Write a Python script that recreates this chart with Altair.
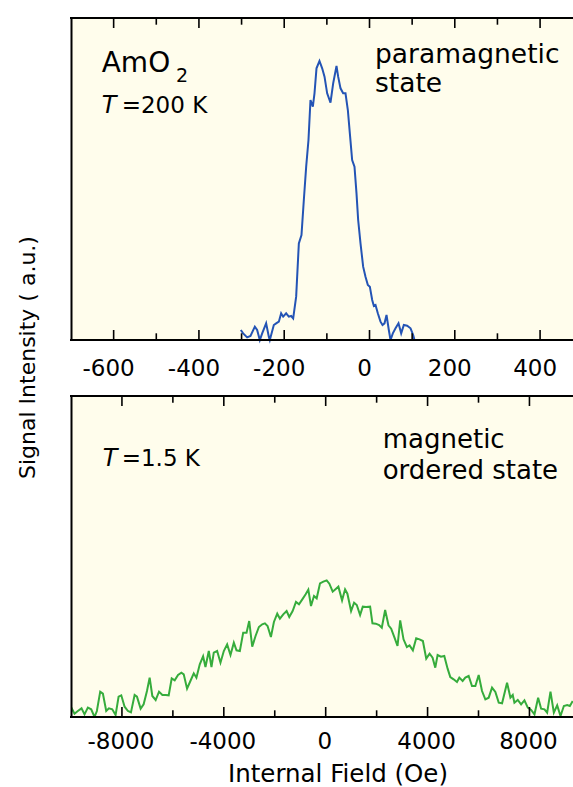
import altair as alt
import pandas as pd

# ---------------- data ----------------
blue_field = [-301.8, -296.3, -286.9, -279.1, -268.9, -263.5, -257.2, -251.7, -242.4, -236.1,
              -233.8, -224.4, -218.9, -212.6, -207.2, -202.5, -195.5, -189.2, -183.7, -179.0,
              -172.0, -165.7, -159.5, -154.0, -148.5, -143.1, -138.4, -132.9, -129.0, -124.3,
              -117.3, -111.0, -105.5, -99.3, -91.5, -85.2, -77.4, -73.5, -68.0, -61.8,
              -56.3, -50.8, -46.1, -40.7, -35.2, -30.5, -26.6, -21.1, -14.9, -9.4,
              -3.9, 0.8, 6.3, 10.2, 14.1, 19.5, 25.8, 30.5, 35.2, 39.9,
              45.3, 49.3, 54.7, 61.0, 68.0, 74.3, 80.5, 88.3, 96.2, 102.4,
              105.5]
blue_signal = [30, 20, 8, 12, 40, 30, 0, 20, 50, 10,
               0, 45, 50, 55, 80, 70, 80, 70, 72, 65,
               130, 290, 315, 420, 520, 600, 720, 700, 740, 815,
               837, 815, 790, 740, 712, 770, 822, 790, 755, 740,
               740, 690, 620, 540, 520, 440, 360, 290, 220, 190,
               165, 160, 120, 102, 105, 80, 55, 45, 50, 75,
               30, 0, 20, 35, 50, 20, 45, 43, 35, 15,
               0]

green_field = [-10000, -9862, -9731, -9587, -9469, -9338, -9207, -9076, -8984, -8853,
               -8748, -8617, -8512, -8380, -8249, -8131, -8026, -7895, -7764, -7646,
               -7502, -7410, -7266, -7148, -7017, -6912, -6807, -6676, -6544, -6413,
               -6282, -6164, -6046, -5928, -5797, -5666, -5574, -5443, -5312, -5180,
               -5076, -4944, -4813, -4721, -4590, -4485, -4394, -4262, -4131, -4000,
               -3869, -3738, -3607, -3502, -3371, -3239, -3108, -3003, -2885, -2754,
               -2623, -2492, -2387, -2282, -2151, -2033, -1902, -1797, -1666, -1534,
               -1430, -1298, -1167, -1049, -918, -787, -682, -577, -459, -354,
               -223, -92, 39, 144, 275, 407, 498, 643, 761, 852,
               997, 1115, 1220, 1351, 1456, 1587, 1744, 1836, 1967, 2098,
               2203, 2334, 2466, 2571, 2702, 2820, 2925, 3056, 3187, 3292,
               3423, 3554, 3685, 3816, 3948, 4079, 4197, 4302, 4394, 4525,
               4656, 4787, 4892, 5023, 5154, 5246, 5377, 5482, 5613, 5744,
               5876, 6007, 6138, 6269, 6400, 6531, 6662, 6794, 6925, 7121,
               7253, 7344, 7410, 7541, 7672, 7803, 7935, 8066, 8197, 8341,
               8459, 8590, 8695, 8826, 8958, 9089, 9220, 9351, 9482, 9587,
               9700]
green_signal = [30, 10, 18, 26, 8, 28, 23, 0, 18, 76,
                70, 18, 26, 23, 6, 61, 65, 31, 18, 14,
                66, 61, 25, 38, 78, 118, 63, 51, 76, 66,
                66, 65, 116, 110, 126, 133, 128, 85, 108, 131,
                118, 158, 182, 150, 198, 150, 193, 198, 163, 198,
                218, 186, 223, 200, 198, 253, 253, 288, 211, 243,
                270, 278, 281, 273, 240, 285, 310, 295, 308, 318,
                300, 318, 345, 338, 353, 368, 382, 333, 363, 356,
                401, 406, 410, 400, 376, 385, 391, 350, 383, 370,
                318, 343, 336, 306, 331, 330, 331, 281, 280, 276,
                268, 321, 275, 265, 238, 213, 290, 233, 210, 215,
                200, 236, 233, 228, 175, 190, 178, 148, 186, 181,
                183, 145, 120, 113, 105, 118, 108, 118, 123, 93,
                93, 126, 78, 53, 58, 88, 75, 43, 41, 103,
                58, 66, 43, 51, 38, 50, 28, 21, 8, 58,
                25, 23, 13, 76, 13, 35, 3, 33, 36, 33,
                48]

top_major = [-600, -400, -200, 0, 200, 400]
top_minor = [-500, -300, -100, 100, 300]
bot_major = [-8000, -4000, 0, 4000, 8000]
bot_minor = [-6000, -2000, 2000, 6000]
top_labels = ["-600", "-400", "-200", "0", "200", "400"]
bot_labels = ["-8000", "-4000", "0", "4000", "8000"]

# ---------------- layout / style ----------------
FONT = "DejaVu Sans"
W = 502          # plot width (x = 71 .. 573)
H = 699          # both panels (y = 18 .. 717)
TOP_H = 322      # top panel height
BOT_Y0 = 378     # bottom panel top
BG = "#fffdec"
BLUE = "#2454b5"
GREEN = "#36ac3c"
LW = 2

top_x = alt.Scale(domain=[-700, 477.2], nice=False, zero=False)
top_y = alt.Scale(domain=[0, 966], range=[TOP_H, 0], nice=False, zero=False)
bot_x = alt.Scale(domain=[-10000, 9710], nice=False, zero=False)
bot_y = alt.Scale(domain=[0, 963], range=[H, BOT_Y0], nice=False, zero=False)

blue_df = pd.DataFrame({"field": blue_field, "signal": blue_signal})
green_df = pd.DataFrame({"field": green_field, "signal": green_signal})
one = pd.DataFrame({"a": [0]})


def rect(y0, y1):
    return alt.Chart(one).mark_rect(color=BG).encode(
        x=alt.value(0), x2=alt.value(W), y=alt.value(y0), y2=alt.value(y1))


def hline(y):
    return alt.Chart(one).mark_rule(color="black", strokeWidth=LW).encode(
        x=alt.value(-1), x2=alt.value(W), y=alt.value(y))


def ticks(vals, scale, y0, y1):
    return alt.Chart(pd.DataFrame({"field": vals})).mark_rule(
        color="black", strokeWidth=1.6).encode(
        x=alt.X("field:Q", scale=scale, axis=None),
        y=alt.value(y0), y2=alt.value(y1))


def tick_labels(vals, texts, scale, y, dx=0):
    return alt.Chart(pd.DataFrame({"field": vals, "lab": texts})).mark_text(
        align="center", baseline="alphabetic", font=FONT, fontSize=23,
        color="black", dx=dx).encode(
        x=alt.X("field:Q", scale=scale, axis=None),
        y=alt.value(y), text="lab:N")


def label(text, x, y, size, style="normal", align="left"):
    return alt.Chart(pd.DataFrame({"t": [text]})).mark_text(
        align=align, baseline="alphabetic", font=FONT, fontSize=size,
        fontStyle=style, color="black").encode(
        text="t:N", x=alt.value(x), y=alt.value(y))


def yaxis(**kw):
    return alt.Axis(orient="left", labels=False, ticks=False, tickSize=0,
                    domainColor="black", domainWidth=LW, grid=False, zindex=2, **kw)


top_line = alt.Chart(blue_df).mark_line(color=BLUE, strokeWidth=2, clip=True).encode(
    x=alt.X("field:Q", scale=top_x, axis=None),
    y=alt.Y("signal:Q", scale=top_y,
            axis=yaxis(title="Signal Intensity ( a.u.)", titleAngle=270,
                       titleX=-44, titleY=339, titleAlign="center",
                       titleBaseline="middle", titleFont=FONT, titleFontSize=22,
                       titleFontWeight="normal", titleColor="black")),
)

top_panel = alt.layer(
    top_line,
    ticks(top_major, top_x, TOP_H, TOP_H - 10),
    ticks(top_minor, top_x, TOP_H, TOP_H - 6.7),
    ticks(top_major, top_x, 0, 10),
    ticks(top_minor, top_x, 0, 6.7),
    tick_labels(top_major, top_labels, top_x, TOP_H + 35.5, dx=-5),
)

bot_line = alt.Chart(green_df).mark_line(color=GREEN, strokeWidth=2, clip=True).encode(
    x=alt.X("field:Q", scale=bot_x, axis=None),
    y=alt.Y("signal:Q", scale=bot_y, axis=yaxis(title=None)),
)

bot_panel = alt.layer(
    bot_line,
    ticks(bot_major, bot_x, H, H - 10),
    ticks(bot_minor, bot_x, H, H - 6.7),
    ticks(bot_major, bot_x, BOT_Y0, BOT_Y0 + 10),
    ticks(bot_minor, bot_x, BOT_Y0, BOT_Y0 + 6.7),
    tick_labels(bot_major, bot_labels, bot_x, H + 31.6, dx=-1),
)

texts = alt.layer(
    label("AmO", 30.7, 53.7, 28),
    label("2", 105, 63.7, 19),
    label("T", 30.7, 95.3, 24, "italic"),
    label("=200 K", 50.7, 95.3, 23),
    label("paramagnetic", 304, 45, 26.5),
    label("state", 304, 73.7, 26.5),
    label("T", 31.7, 448, 24, "italic"),
    label("=1.5 K", 50.7, 448, 23),
    label("magnetic", 311.7, 430.3, 26),
    label("ordered state", 311.7, 461.3, 26),
    label("Internal Field (Oe)", 267, 763.5, 24.5, align="center"),
)

chart = alt.layer(
    rect(0, TOP_H), rect(BOT_Y0, H),
    top_panel, bot_panel,
    hline(0), hline(TOP_H), hline(BOT_Y0), hline(H),
    texts,
).resolve_scale(x="independent", y="independent").resolve_axis(
    x="independent", y="independent"
).properties(
    width=W, height=H,
    autosize=alt.AutoSizeParams(type="none"),
    padding={"left": 71, "top": 18, "right": 0, "bottom": 70},
    background="white",
).configure_view(stroke=None)

chart.save("out.html", embed_options={"renderer": "svg", "actions": False})
